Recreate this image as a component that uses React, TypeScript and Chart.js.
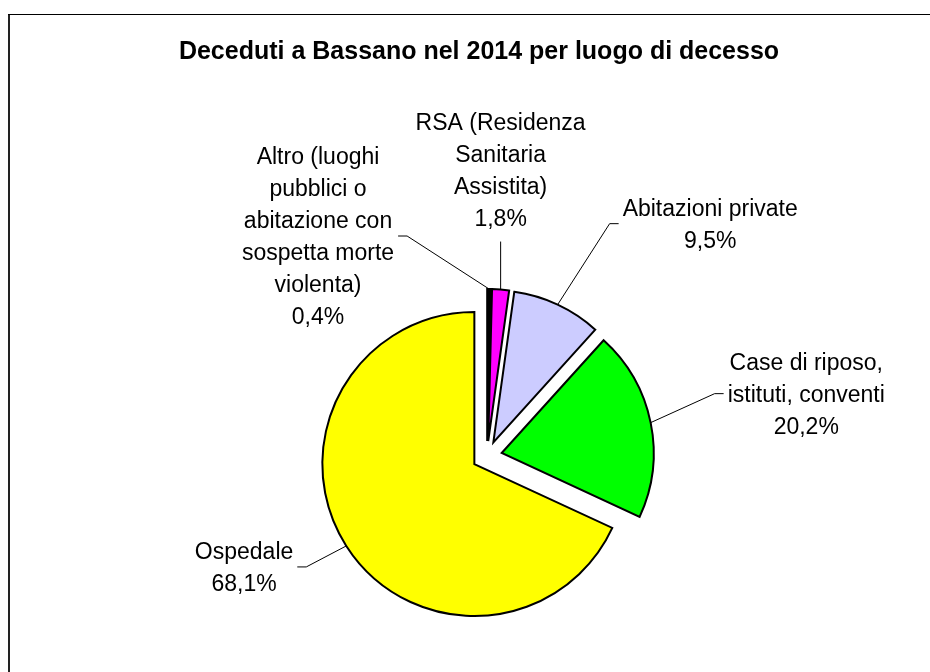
import React, { useEffect, useRef } from 'react';
import { Chart, registerables } from 'chart.js';

Chart.register(...registerables);

// ---- data ----
const chartTitle = 'Deceduti a Bassano nel 2014 per luogo di decesso';
const categories: string[][] = [
  ['Altro (luoghi', 'pubblici o', 'abitazione con', 'sospetta morte', 'violenta)'],
  ['RSA (Residenza', 'Sanitaria', 'Assistita)'],
  ['Abitazioni private'],
  ['Case di riposo,', 'istituti, conventi'],
  ['Ospedale'],
];
const values = [0.4, 1.8, 9.5, 20.2, 68.1];
const colors = ['#000000', '#FF00FF', '#CCCCFF', '#00FF00', '#FFFF00'];

const valueLabels = values.map((v) => v.toFixed(1).replace('.', ',') + '%');

// ---- styling / layout ----
const EXPLODE = 15; // px each slice is pulled out
const RADIUS = 152;
const LINE_H = 32;
const STUB = 9;
const GAP = 4;
const LABEL_FONT = '23px "Liberation Sans", Arial, sans-serif';
const TITLE_FONT = 'bold 25px "Liberation Sans", Arial, sans-serif';

type Placement = { dx: number; dy: number; side: 'left' | 'right' | 'top' };
const placements: Placement[] = [
  { dx: -82, dy: -53, side: 'left' },
  { dx: 0, dy: -48, side: 'top' },
  { dx: 52, dy: -81, side: 'right' },
  { dx: 64, dy: -29, side: 'right' },
  { dx: -40, dy: 21, side: 'left' },
];

const explodePlugin = {
  id: 'explodeSlices',
  beforeDatasetDraw(chart: any, args: any) {
    const ctx: CanvasRenderingContext2D = chart.ctx;
    args.meta.data.forEach((arc: any) => {
      const mid = (arc.startAngle + arc.endAngle) / 2;
      ctx.save();
      ctx.translate(Math.cos(mid) * EXPLODE, Math.sin(mid) * EXPLODE);
      arc.draw(ctx);
      ctx.restore();
    });
    return false;
  },
};

const labelPlugin = {
  id: 'pieLabels',
  afterDatasetsDraw(chart: any) {
    const ctx: CanvasRenderingContext2D = chart.ctx;
    const meta = chart.getDatasetMeta(0);
    ctx.save();

    // frame
    ctx.fillStyle = '#222';
    ctx.fillRect(8, 14, 2, 700);
    ctx.fillStyle = '#000';
    ctx.fillRect(8, 14, 940, 1);

    // title
    ctx.font = TITLE_FONT;
    ctx.textAlign = 'center';
    ctx.textBaseline = 'alphabetic';
    ctx.fillStyle = '#000';
    ctx.fillText(chartTitle, 479, 59);

    // labels
    ctx.font = LABEL_FONT;
    ctx.strokeStyle = '#000';
    ctx.lineWidth = 1;
    meta.data.forEach((arc: any, i: number) => {
      const mid = (arc.startAngle + arc.endAngle) / 2;
      const px = arc.x + Math.cos(mid) * (EXPLODE + arc.outerRadius);
      const py = arc.y + Math.sin(mid) * (EXPLODE + arc.outerRadius);
      const pl = placements[i];
      const ex = px + pl.dx;
      const ey = py + pl.dy;
      const lines = [...categories[i], valueLabels[i]];
      const w = Math.max(...lines.map((l) => ctx.measureText(l).width));
      let cx = ex;
      let cy = ey;
      ctx.beginPath();
      ctx.moveTo(px, py);
      ctx.lineTo(ex, ey);
      if (pl.side === 'left') {
        ctx.lineTo(ex - STUB, ey);
        cx = ex - STUB - GAP - w / 2;
      } else if (pl.side === 'right') {
        ctx.lineTo(ex + STUB, ey);
        cx = ex + STUB + GAP + w / 2;
      } else {
        cy = ey - 24 - ((lines.length - 1) / 2) * LINE_H;
      }
      ctx.stroke();
      ctx.textAlign = 'center';
      lines.forEach((l, k) => {
        ctx.fillText(l, cx, cy + (k - (lines.length - 1) / 2) * LINE_H + 8);
      });
    });
    ctx.restore();
  },
};

export default function App() {
  const ref = useRef<HTMLCanvasElement>(null);
  useEffect(() => {
    const chart = new Chart(ref.current as HTMLCanvasElement, {
      type: 'pie',
      data: {
        labels: categories.map((c) => c.join(' ')),
        datasets: [
          {
            data: values,
            backgroundColor: colors,
            borderColor: '#000',
            borderWidth: 2,
            borderJoinStyle: 'miter',
            hoverOffset: 0,
            offset: 0,
          } as any,
        ],
      },
      options: {
        responsive: false,
        animation: false,
        events: [],
        radius: RADIUS,
        layout: { padding: { left: 44, right: 0, top: 240, bottom: 0 } },
        plugins: {
          legend: { display: false },
          title: { display: false },
          tooltip: { enabled: false },
        },
      } as any,
      plugins: [explodePlugin, labelPlugin],
    });
    return () => chart.destroy();
  }, []);
  return (
    <div style={{ position: 'absolute', left: 0, top: 0, width: 930, height: 672, overflow: 'hidden', background: '#fff' }}>
      <canvas ref={ref} width={930} height={672} style={{ display: 'block', width: 930, height: 672 }} />
    </div>
  );
}
